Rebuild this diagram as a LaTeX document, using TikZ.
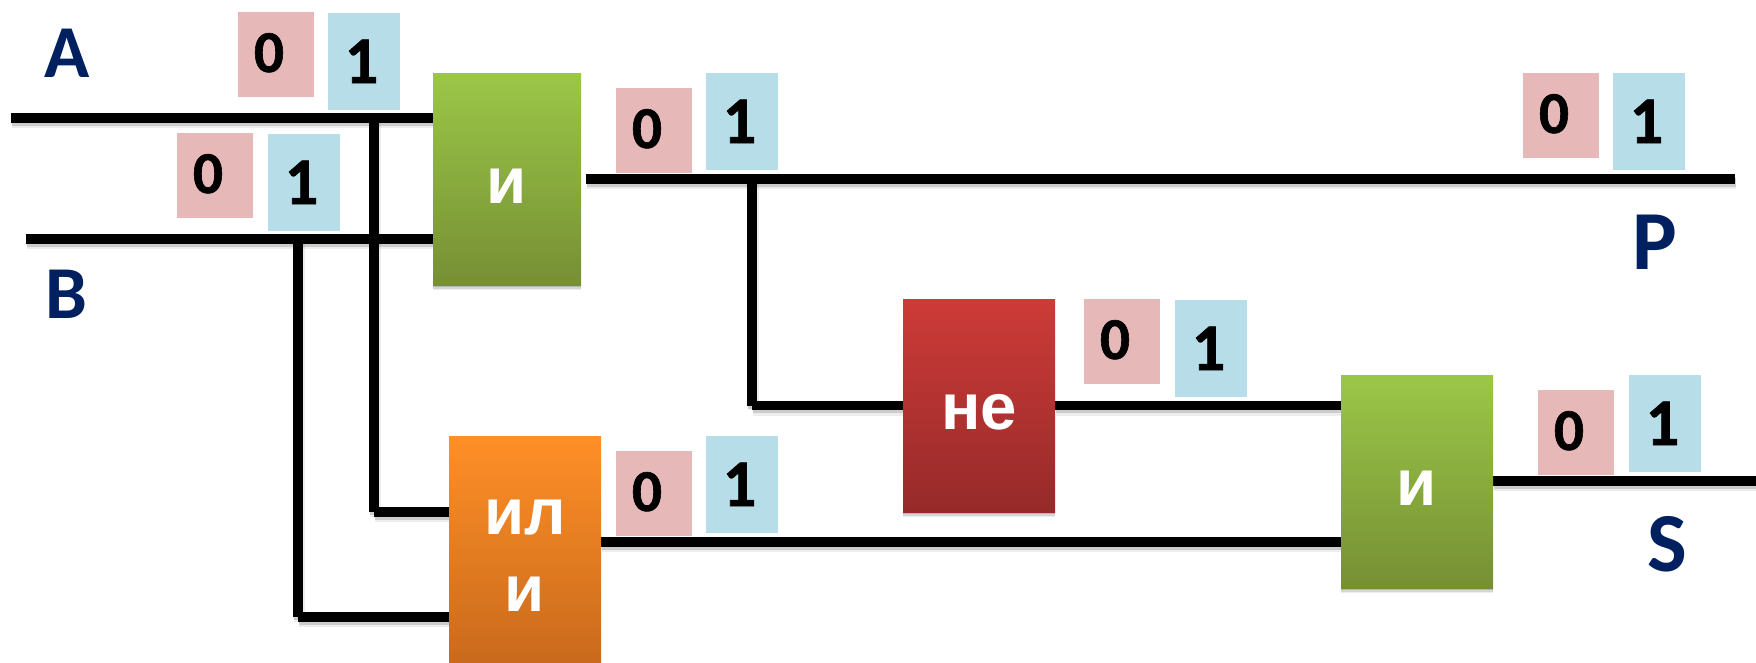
\documentclass[tikz,border=0pt]{standalone}
\usepackage{fontspec}
\setmainfont{Carlito}
\newfontfamily\arialbold[Script=Cyrillic]{Liberation Sans}
\usetikzlibrary{shadows,backgrounds}
\newdimen\px \px=.75pt
\definecolor{zeroc}{HTML}{E6B8B7}
\definecolor{onec}{HTML}{B7DEE8}
\definecolor{navy}{HTML}{002060}
\definecolor{green1}{HTML}{9BC748}
\definecolor{green2}{HTML}{768F34}
\definecolor{orange1}{HTML}{FF8F27}
\definecolor{orange2}{HTML}{C96A1C}
\definecolor{red1}{HTML}{CD3B38}
\definecolor{red2}{HTML}{962A29}
\tikzset{
  x=.75pt,y=-.75pt,
  wire/.style={draw=black,line width=9.5\px,line cap=butt,
    preaction={draw=black,opacity=.07,line width=11\px,transform canvas={xshift=.8pt,yshift=-3.6pt}},
    preaction={draw=black,opacity=.14,line width=9\px,transform canvas={xshift=.6pt,yshift=-2.6pt}}},
  gate/.style={rectangle,inner sep=0pt,minimum width=#1\px,
    general shadow={shadow yshift=-4pt,fill=black,opacity=.07},
    general shadow={shadow yshift=-2.8pt,fill=black,opacity=.10},
    general shadow={shadow yshift=-1.6pt,fill=black,opacity=.14}},
  zerotag/.style={rectangle,inner sep=0pt,fill=zeroc,minimum width=76\px,minimum height=85\px},
  onetag/.style={rectangle,inner sep=0pt,fill=onec,minimum width=72\px,minimum height=97\px},
  digitzero/.style={anchor=base,inner sep=0pt,font=\fontsize{44.5pt}{46pt}\bfseries\addfontfeature{FakeBold=1}},
  digitone/.style={anchor=base,inner sep=0pt,font=\fontsize{50pt}{52pt}\bfseries\addfontfeature{FakeBold=1}},
  signal/.style={anchor=base,inner sep=0pt,text=navy,font=\fontsize{56pt}{58pt}\bfseries},
  bigsignal/.style={signal,font=\fontsize{63pt}{65pt}\bfseries},
  gatetext/.style={anchor=base,inner sep=0pt,text=white,font=\arialbold\fontsize{49pt}{51pt}\bfseries},
}
\newcommand{\zerotagat}[3]{%
  \node[zerotag] (#1) at (#2+38,#3+42.5) {};
  \node[digitzero] (#1d) at (#2+31,#3+60) {0};}
\newcommand{\onetagat}[3]{%
  \node[onetag] (#1) at (#2+36,#3+48.5) {};
  \node[digitone] (#1d) at (#2+33.5,#3+70) {1};}
\begin{document}
\begin{tikzpicture}
\useasboundingbox (0,0) rectangle (1756,662);
% gates
\node[gate=148,minimum height=212\px,top color=green1,bottom color=green2] (g1) at (507,179) {};
\node[gate=152,minimum height=226\px,top color=orange1,bottom color=orange2] (g2) at (525,549) {};
\node[gate=152,minimum height=213\px,top color=red1,bottom color=red2] (g3) at (979,405.5) {};
\node[gate=152,minimum height=213\px,top color=green1,bottom color=green2] (g4) at (1417,481.5) {};
\node[gatetext] (g1t) at (507,203) {и};
\node[gatetext] (g2a) at (525,534) {ил};
\node[gatetext] (g2b) at (525,611) {и};
\node[gatetext] (g3t) at (979,429) {не};
\node[gatetext] (g4t) at (1417,505) {и};
% free ends and junctions
\coordinate (aS) at (11,118);
\coordinate (bS) at (26,239);
\coordinate (aJ) at (374,118);
\coordinate (bJ) at (298,239);
\coordinate (aE) at (374,512);
\coordinate (bE) at (298,617);
\coordinate (pS) at (586,179);
\coordinate (pE) at (1735,179);
\coordinate (pJ) at (752,179);
\coordinate (nE) at (752,405.5);
\coordinate (sE) at (1756,481);
\coordinate (orOut) at (601,542);
\coordinate (notOut) at (1055,405.5);
\begin{pgfonlayer}{background}
\draw[wire] (aS) -- (g1.west |- aS);
\draw[wire] (bS) -- (g1.west |- bS);
\draw[wire] (aJ) -- (aE);
\draw[wire] (bJ) -- (bE);
\draw[wire] (aE) -- (g2.west |- aE);
\draw[wire] (bE) -- (g2.west |- bE);
\draw[wire] (pS) -- (pE);
\draw[wire] (pJ) -- (nE);
\draw[wire] (nE) -- (g3.west |- nE);
\draw[wire] (notOut) -- (g4.west |- notOut);
\draw[wire] (orOut) -- (g4.west |- orOut);
\draw[wire] (g4.east |- sE) -- (sE);
\end{pgfonlayer}
% value tags
\zerotagat{a0}{238}{12}   \onetagat{a1}{328}{13}
\zerotagat{b0}{177}{133}  \onetagat{b1}{268}{134}
\zerotagat{c0}{616}{88}   \onetagat{c1}{706}{73}
\zerotagat{d0}{1523}{73}  \onetagat{d1}{1613}{73}
\zerotagat{e0}{1084}{299} \onetagat{e1}{1175}{300}
\zerotagat{f0}{616}{451}  \onetagat{f1}{706}{436}
\zerotagat{h0}{1538}{390} \onetagat{h1}{1629}{375}
% signal names
\node[signal] (A) at (67,77) {A};
\node[signal] (B) at (66,318) {B};
\node[bigsignal] (P) at (1655,269) {P};
\node[bigsignal] (S) at (1667,571) {S};
\end{tikzpicture}
\end{document}
